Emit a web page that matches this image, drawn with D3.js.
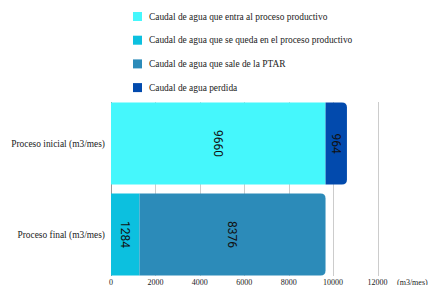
<!DOCTYPE html>
<html>
<head>
<meta charset="utf-8">
<script src="https://cdn.jsdelivr.net/npm/d3@7"></script>
<style>
    body { margin: 0; background: #fff; }
    svg { display: block; }
    .serif { font-family: "Liberation Serif", serif; fill: #222; }
</style>
</head>
<body>
<svg id="chart" width="431" height="285"></svg>
<script>
// data
const categories = ['Proceso inicial (m3/mes)', 'Proceso final (m3/mes)']
const seriesNames = [
    'Caudal de agua que entra al proceso productivo',
    'Caudal de agua que se queda en el proceso productivo',
    'Caudal de agua que sale de la PTAR',
    'Caudal de agua perdida'
]
const seriesColors = ['#45f7fc', '#0cc0df', '#2c8bb9', '#024aad']
// values per series, one per category
const entra = [9660, 0]
const queda = [0, 1284]
const sale = [0, 8376]
const perdida = [964, 0]
const xTicks = [0, 2000, 4000, 6000, 8000, 10000, 12000]
const xTitle = '(m3/mes)'

const svg = d3.select('#chart')

const x = d3.scaleLinear().domain([0, 12000]).range([111, 377.5])
const y = d3.scaleBand().domain(categories).range([98, 280]).paddingInner(0.1).paddingOuter(0.05)

// grid
svg.append('g')
    .selectAll('line')
    .data(xTicks)
    .join('line')
    .attr('x1', d => Math.round(x(d)) + 0.5)
    .attr('x2', d => Math.round(x(d)) + 0.5)
    .attr('y1', 102)
    .attr('y2', 276)
    .attr('stroke', d => d === 0 ? '#999' : '#ccc')
    .attr('stroke-width', 1)

// tick labels
svg.append('g')
    .selectAll('text')
    .data(xTicks)
    .join('text')
    .attr('class', 'serif')
    .attr('x', d => x(d))
    .attr('y', 284.5)
    .attr('text-anchor', 'middle')
    .attr('font-size', 8)
    .text(d => d)

svg.append('text')
    .attr('class', 'serif')
    .attr('x', 397)
    .attr('y', 284.5)
    .attr('font-size', 8)
    .text(xTitle)

// stacks
const table = categories.map((c, i) => ({
    cat: c,
    entra: entra[i], queda: queda[i], sale: sale[i], perdida: perdida[i]
}))
const keys = ['entra', 'queda', 'sale', 'perdida']
const stacked = d3.stack().keys(keys)(table)

const barH = y.bandwidth()
const r = 5

stacked.forEach((layer, li) => {
    layer.forEach((seg, ci) => {
        const v = seg[1] - seg[0]
        if (v <= 0) return
        const x0 = x(seg[0]), x1 = x(seg[1])
        const y0 = y(categories[ci])
        const total = d3.max(stacked, l => l[ci][1])
        const isEnd = seg[1] === total
        let d
        if (isEnd) {
            d = `M${x0},${y0} H${x1 - r} Q${x1},${y0} ${x1},${y0 + r} V${y0 + barH - r} Q${x1},${y0 + barH} ${x1 - r},${y0 + barH} H${x0} Z`
        } else {
            d = `M${x0},${y0} H${x1} V${y0 + barH} H${x0} Z`
        }
        svg.append('path')
            .attr('d', d)
            .attr('fill', seriesColors[li])

        const cx = (x0 + x1) / 2
        const cy = y0 + barH / 2
        svg.append('text')
            .attr('transform', `translate(${cx},${cy}) rotate(90)`)
            .attr('text-anchor', 'middle')
            .attr('dy', '0.35em')
            .attr('font-family', 'Roboto, sans-serif')
            .attr('font-size', 12)
            .attr('fill', '#111')
            .text(v)
    })
})

// category labels
svg.append('g')
    .selectAll('text')
    .data(categories)
    .join('text')
    .attr('class', 'serif')
    .attr('x', 105)
    .attr('y', d => y(d) + y.bandwidth() / 2)
    .attr('dy', '0.35em')
    .attr('text-anchor', 'end')
    .attr('font-size', 9.4)
    .text(d => d)

// legend
const legend = svg.append('g')
    .selectAll('g')
    .data(seriesNames)
    .join('g')
    .attr('transform', (d, i) => `translate(133,${12 + i * 23.7})`)

legend.append('rect')
    .attr('width', 9)
    .attr('height', 9)
    .attr('fill', (d, i) => seriesColors[i])

legend.append('text')
    .attr('class', 'serif')
    .attr('x', 16)
    .attr('y', 4.5)
    .attr('dy', '0.35em')
    .attr('font-size', 9.4)
    .text(d => d)
</script>
</body>
</html>
